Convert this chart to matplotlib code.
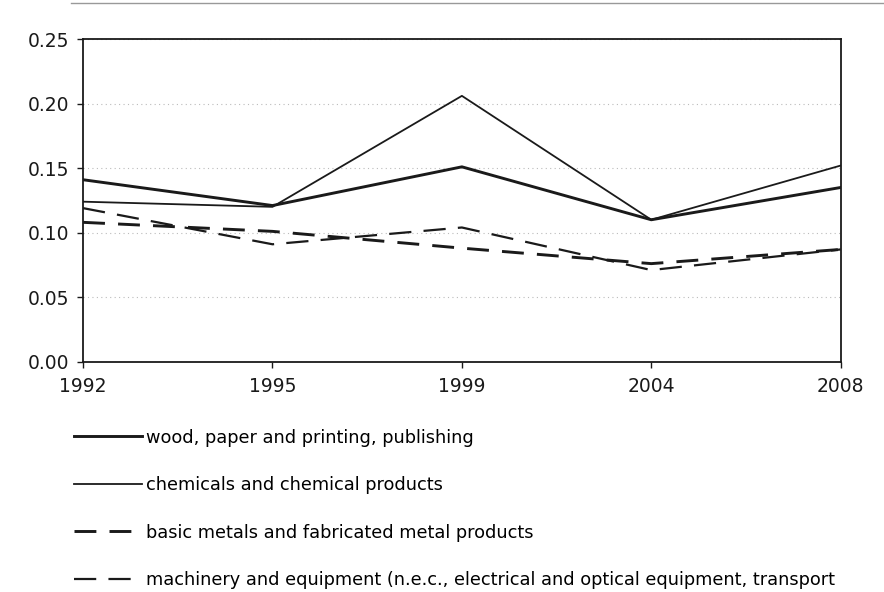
import matplotlib.pyplot as plt
from matplotlib.lines import Line2D

plt.rcParams['font.family'] = ['DejaVu Sans']

years = ['1992', '1995', '1999', '2004', '2008']
wood = [0.141, 0.121, 0.151, 0.110, 0.135]
chemicals = [0.124, 0.120, 0.206, 0.110, 0.152]
basic_metals = [0.108, 0.101, 0.088, 0.076, 0.087]
machinery = [0.119, 0.091, 0.104, 0.071, 0.087]

labels = ['wood, paper and printing, publishing',
          'chemicals and chemical products',
          'basic metals and fabricated metal products',
          'machinery and equipment (n.e.c., electrical and optical equipment, transport']

fig = plt.figure(figsize=(8.84, 5.92), dpi=100)
ax = fig.add_axes([0.094, 0.389, 0.857, 0.545])

x = range(len(years))
ax.plot(x, wood, color='#1a1a1a', lw=2.1, label=labels[0])
ax.plot(x, chemicals, color='#1a1a1a', lw=1.3, label=labels[1])
ax.plot(x, basic_metals, color='#1a1a1a', lw=2.1, dashes=(7.5, 4.5), label=labels[2])
ax.plot(x, machinery, color='#1a1a1a', lw=1.6, dashes=(10, 5.5), label=labels[3])

ax.set_xlim(0, len(years) - 1)
ax.set_ylim(0, 0.25)
ax.set_xticks(list(x))
ax.set_xticklabels(years)
ax.set_yticks([0, 0.05, 0.10, 0.15, 0.20, 0.25])
ax.set_yticklabels(['0.00', '0.05', '0.10', '0.15', '0.20', '0.25'])
ax.tick_params(labelsize=13.5, length=4, width=1, pad=6, colors='#1a1a1a')
ax.tick_params(axis='x', pad=7)
for s in ax.spines.values():
    s.set_linewidth(1.3)
    s.set_color('#1a1a1a')
ax.yaxis.grid(True, linestyle=(0, (1, 3)), color='#bbbbbb', lw=0.8)
ax.set_axisbelow(True)

fig.legend(loc='upper left', bbox_to_anchor=(0.084, 0.276), frameon=False,
           fontsize=12.8, handlelength=3.8, handletextpad=0.25, labelspacing=1.66,
           borderpad=0, borderaxespad=0)

# scanned page rule along the top
fig.add_artist(Line2D([0.08, 1], [0.995, 0.995], color='#999999', lw=1))

fig.savefig('out.png', dpi=100)
